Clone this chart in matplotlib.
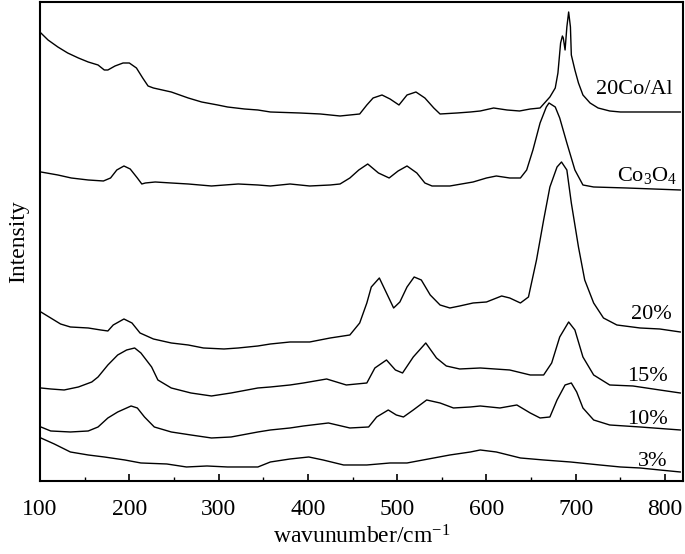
import matplotlib
matplotlib.use("Agg")
import matplotlib.pyplot as plt
from matplotlib.ticker import MultipleLocator

plt.rcParams['font.family'] = ['Liberation Serif', 'DejaVu Serif']
plt.rcParams['mathtext.fontset'] = 'custom'
plt.rcParams['mathtext.rm'] = 'Liberation Serif'
plt.rcParams['mathtext.it'] = 'Liberation Serif:italic'

# spectra (intensity in arbitrary units, already offset)
x_coal = [101, 109, 120, 131, 143, 154, 165, 172, 176, 184, 193, 200, 208, 215, 221, 227, 247, 266, 281, 299,
          310, 329, 344, 358, 391, 414, 436, 458, 466, 473, 483, 492, 502, 511, 521, 531, 541, 548, 567,
          582, 593, 608, 623, 637, 649, 660, 666, 671, 677, 680, 683, 685, 686, 688, 690, 692, 694, 695,
          699, 703, 708, 716, 725, 738, 750, 772, 817]
y_coal = [448, 441, 434, 428, 423, 419, 416, 411, 411, 415, 418, 418, 413, 403, 395, 393, 389, 383, 379, 376,
          374, 372, 371, 369, 368, 367, 365, 367, 376, 383, 386, 382, 376, 386, 389, 383, 373, 367, 368,
          369, 370, 373, 371, 370, 372, 373, 379, 384, 393, 408, 438, 445, 443, 431, 454, 469, 454, 426,
          411, 398, 386, 378, 373, 370, 369, 369, 369]

x_co3o4 = [101, 120, 135, 154, 171, 179, 186, 194, 201, 209, 214, 218, 229, 247, 266, 292, 322, 344, 358, 380,
           402, 425, 436, 447, 457, 467, 479, 491, 501, 511, 522, 531, 539, 559, 585, 600, 611, 626, 638,
           645, 652, 660, 667, 670, 677, 682, 690, 699, 708, 720, 757, 817]
y_co3o4 = [309, 306, 303, 301, 300, 303, 311, 315, 312, 303, 297, 298, 299, 298, 297, 295, 297, 296, 295, 297,
           295, 296, 297, 303, 311, 317, 308, 303, 310, 315, 308, 298, 295, 295, 299, 303, 305, 303, 303,
           311, 331, 358, 374, 378, 374, 363, 338, 311, 296, 294, 293, 291]

x_20 = [101, 112, 123, 134, 154, 168, 176, 182, 194, 203, 212, 227, 247, 266, 283, 306, 322, 344, 358, 380,
        402, 425, 447, 458, 466, 471, 480, 488, 496, 503, 511, 519, 527, 537, 548, 559, 570, 585, 600,
        617, 626, 638, 647, 656, 664, 671, 679, 684, 690, 695, 703, 710, 720, 731, 746, 772, 794, 817]
y_20 = [169, 163, 157, 154, 153, 151, 150, 156, 162, 158, 148, 142, 138, 136, 133, 132, 133, 135, 137, 139,
        139, 143, 146, 158, 178, 194, 203, 188, 173, 179, 194, 204, 201, 186, 176, 173, 175, 178, 179,
        185, 183, 178, 184, 221, 261, 294, 314, 319, 311, 278, 234, 201, 178, 163, 156, 153, 152, 149]

x_15 = [101, 112, 127, 143, 158, 165, 176, 187, 197, 206, 213, 225, 232, 247, 269, 292, 314, 344, 358, 380,
        395, 421, 443, 466, 475, 488, 498, 506, 518, 532, 544, 555, 570, 593, 626, 649, 664, 673, 682,
        692, 699, 708, 720, 738, 764, 794, 817]
y_15 = [93, 92, 91, 94, 99, 104, 116, 126, 131, 133, 128, 114, 101, 93, 88, 85, 88, 93, 94, 96,
        98, 102, 96, 98, 113, 121, 111, 108, 124, 138, 123, 115, 112, 113, 111, 106, 106, 118, 144,
        159, 151, 124, 106, 96, 95, 91, 88]

x_10 = [101, 112, 134, 154, 165, 176, 187, 202, 209, 217, 228, 247, 269, 292, 314, 344, 358, 380, 395, 423,
        447, 468, 477, 490, 499, 507, 518, 533, 548, 563, 582, 593, 615, 634, 649, 660, 671, 679, 688,
        695, 701, 708, 720, 738, 772, 817]
y_10 = [54, 50, 49, 50, 54, 63, 69, 75, 73, 64, 54, 49, 46, 43, 44, 49, 51, 53, 55, 58,
        53, 54, 64, 71, 66, 64, 71, 81, 78, 73, 74, 75, 73, 76, 68, 63, 64, 81, 96,
        98, 89, 73, 61, 56, 54, 51]

x_3 = [101, 116, 134, 154, 172, 195, 213, 242, 264, 287, 310, 322, 344, 358, 380, 401, 417, 440, 466, 492,
       511, 529, 559, 582, 593, 611, 638, 664, 694, 727, 750, 772, 794, 817]
y_3 = [43, 37, 29, 26, 24, 21, 18, 17, 14, 15, 14, 14, 14, 19, 22, 24, 21, 16, 16, 18,
       18, 21, 26, 29, 31, 29, 23, 21, 19, 16, 14, 13, 11, 9]

series = [(x_coal, y_coal), (x_co3o4, y_co3o4), (x_20, y_20), (x_15, y_15), (x_10, y_10), (x_3, y_3)]

fig = plt.figure(figsize=(6.85, 5.54), dpi=100)
ax = fig.add_axes([0.0584, 0.1318, 0.9386, 0.8646])

for xs, ys in series:
    ax.plot(xs, ys, color='black', lw=1.0)

ax.text(809, 391, '20Co/Al', ha='right', va='center', fontsize=16)
ax.text(813, 305, r'Co$_3$O$_4$', ha='right', va='center', fontsize=16)
ax.text(808, 166, '20%', ha='right', va='center', fontsize=16)
ax.text(803, 104, '15%', ha='right', va='center', fontsize=16)
ax.text(803, 61, '10%', ha='right', va='center', fontsize=16)
ax.text(803, 19, '3%', ha='right', va='center', fontsize=16)

ax.set_xlim(100, 820)
ax.set_ylim(0, 479)
ax.xaxis.set_major_locator(MultipleLocator(100))
ax.xaxis.set_minor_locator(MultipleLocator(50))
ax.tick_params(axis='x', which='major', direction='in', length=5, width=1.2, labelsize=17, pad=13)
ax.tick_params(axis='x', which='minor', direction='in', length=3, width=1.0)
ax.set_yticks([])
for s in ax.spines.values():
    s.set_linewidth(1.5)

ax.set_xlabel('wavunumber/cm$^{-1}$', fontsize=17, labelpad=4)
ax.set_ylabel('Intensity', fontsize=17, labelpad=8)

fig.savefig('out.png', dpi=100)
